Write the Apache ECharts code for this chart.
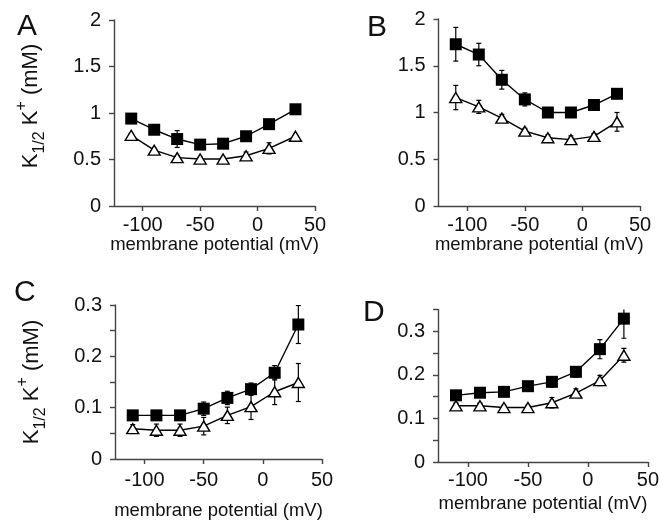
<!DOCTYPE html>
<html><head><meta charset="utf-8">
<script src="https://cdn.jsdelivr.net/npm/echarts@6/dist/echarts.min.js"></script>
<style>html,body{margin:0;padding:0;background:#fff}#c{width:662px;height:523px}</style>
</head><body><div id="c"></div>
<script>
// membrane potential (mV) of each point
const xA = [-110, -90, -70, -50, -30, -10, 10, 33];
const xB = [-110, -90, -70, -50, -30, -10, 10, 30];
const xC = [-110, -90, -70, -50, -30, -10, 10, 30];
const xD = [-110, -90, -70, -50, -30, -10, 10, 30];

// Panel A
const aSquare = [0.94, 0.82, 0.72, 0.66, 0.67, 0.75, 0.88, 1.04];
const aSquareErr = [0.02, 0.02, 0.09, 0.02, 0.02, 0.02, 0.02, 0.02];
const aTri = [0.76, 0.60, 0.52, 0.505, 0.505, 0.54, 0.62, 0.75];
const aTriErr = [0.02, 0.02, 0.02, 0.02, 0.02, 0.04, 0.06, 0.02];

// Panel B
const bSquare = [1.73, 1.62, 1.35, 1.14, 1.00, 1.00, 1.08, 1.20];
const bSquareErr = [0.18, 0.12, 0.10, 0.07, 0.03, 0.03, 0.03, 0.04];
const bTri = [1.16, 1.06, 0.94, 0.80, 0.73, 0.71, 0.745, 0.90];
const bTriErr = [0.13, 0.07, 0.04, 0.03, 0.03, 0.04, 0.03, 0.10];

// Panel C
const cSquare = [0.085, 0.085, 0.085, 0.098, 0.119, 0.136, 0.168, 0.262];
const cSquareErr = [0.005, 0.006, 0.006, 0.013, 0.013, 0.012, 0.014, 0.037];
const cTri = [0.059, 0.056, 0.056, 0.064, 0.085, 0.102, 0.131, 0.149];
const cTriErr = [0.008, 0.012, 0.012, 0.017, 0.016, 0.025, 0.025, 0.037];

// Panel D
const dSquare = [0.153, 0.159, 0.161, 0.174, 0.184, 0.207, 0.259, 0.329];
const dSquareErr = [0.008, 0.008, 0.006, 0.010, 0.012, 0.012, 0.022, 0.045];
const dTri = [0.129, 0.129, 0.125, 0.125, 0.136, 0.158, 0.187, 0.245];
const dTriErr = [0.006, 0.006, 0.005, 0.005, 0.012, 0.010, 0.012, 0.016];

const xTicks = [-100, -50, 0, 50];
const yLabelsCD = [0, 0.1, 0.2, 0.3];
const panelLetters = ['A', 'B', 'C', 'D'];
const xTitle = 'membrane potential (mV)';
const yTitle = '{k|K}{sub|1/2}{k| K}{sup|+}{k| (mM)}';

const FONT = '"Liberation Sans", Arial, Helvetica, sans-serif';
const AX = '#444';
const TXT = '#111';

const panels = [
  {x: xA, sq: aSquare, sqE: aSquareErr, tr: aTri, trE: aTriErr,
   grid: {left: 114, top: 20, width: 201, height: 186},
   y: {min: 0, max: 2, interval: 0.5}, yName: true, yPad: true, lm: 9, ng: 29},
  {x: xB, sq: bSquare, sqE: bSquareErr, tr: bTri, trE: bTriErr,
   grid: {left: 438.5, top: 19, width: 201.5, height: 187},
   y: {min: 0, max: 2, interval: 0.5}, yName: false, lm: 9, ng: 29},
  {x: xC, sq: cSquare, sqE: cSquareErr, tr: cTri, trE: cTriErr,
   grid: {left: 115, top: 305, width: 207, height: 154},
   y: {min: 0, max: 0.3, interval: 0.05, labels: yLabelsCD}, yName: true, yPad: false, lm: 11, ng: 42},
  {x: xD, sq: dSquare, sqE: dSquareErr, tr: dTri, trE: dTriErr,
   grid: {left: 438, top: 309.5, width: 210, height: 152.5},
   y: {min: 0, max: 0.35, interval: 0.05, labels: yLabelsCD}, yName: false, lm: 8, ng: 32}
];

function renderErr(params, api) {
  const x = api.value(0), lo = api.value(1), hi = api.value(2);
  const p1 = api.coord([x, hi]), p2 = api.coord([x, lo]);
  const w = 2.5;
  const style = {stroke: '#000', lineWidth: 1.2, fill: null};
  return {type: 'group', children: [
    {type: 'line', shape: {x1: p1[0], y1: p1[1], x2: p2[0], y2: p2[1]}, style: style},
    {type: 'line', shape: {x1: p1[0] - w, y1: p1[1], x2: p1[0] + w, y2: p1[1]}, style: style},
    {type: 'line', shape: {x1: p2[0] - w, y1: p2[1], x2: p2[0] + w, y2: p2[1]}, style: style}
  ]};
}

const grids = [], xAxes = [], yAxes = [], series = [];
panels.forEach((p, i) => {
  grids.push(Object.assign({containLabel: false}, p.grid));
  xAxes.push({
    type: 'value', gridIndex: i, min: -125, max: 50,
    splitLine: {show: false},
    axisLine: {onZero: false, lineStyle: {color: AX, width: 1.4}},
    axisTick: {customValues: xTicks, length: 5, lineStyle: {color: AX, width: 1.4}},
    axisLabel: {customValues: xTicks, margin: p.lm, color: TXT, fontSize: 20, fontFamily: FONT},
    name: xTitle, nameLocation: 'middle', nameGap: p.ng,
    nameTextStyle: {color: TXT, fontSize: 18.5, fontFamily: FONT}
  });
  const ya = {
    type: 'value', gridIndex: i, min: p.y.min, max: p.y.max, interval: p.y.interval,
    splitLine: {show: false},
    axisLine: {show: true, onZero: false, lineStyle: {color: AX, width: 1.4}},
    axisTick: {show: true, length: 5, lineStyle: {color: AX, width: 1.4}},
    axisLabel: {margin: 13, color: TXT, fontSize: 20, fontFamily: FONT}
  };
  if (p.y.labels) ya.axisLabel.customValues = p.y.labels;
  if (p.yName) {
    ya.name = (p.yPad ? '{pad|}' : '') + yTitle;
    ya.nameLocation = 'middle';
    ya.nameRotate = 90;
    ya.nameGap = 66;
    ya.nameTextStyle = {color: TXT, fontFamily: FONT, rich: {
      pad: {width: 14, fontSize: 22, lineHeight: 34},
      k: {fontSize: 22, fontFamily: FONT, color: TXT, lineHeight: 34, verticalAlign: 'middle'},
      sub: {fontSize: 16, fontFamily: FONT, color: TXT, lineHeight: 16, verticalAlign: 'bottom'},
      sup: {fontSize: 16, fontFamily: FONT, color: TXT, lineHeight: 16, verticalAlign: 'top'}
    }};
  }
  yAxes.push(ya);

  series.push({
    type: 'custom', xAxisIndex: i, yAxisIndex: i, z: 1, clip: true,
    renderItem: renderErr, encode: {x: 0, y: [1, 2]},
    data: p.x.map((x, j) => [x, p.tr[j] - p.trE[j], p.tr[j] + p.trE[j]])
  });
  series.push({
    type: 'custom', xAxisIndex: i, yAxisIndex: i, z: 1, clip: true,
    renderItem: renderErr, encode: {x: 0, y: [1, 2]},
    data: p.x.map((x, j) => [x, p.sq[j] - p.sqE[j], p.sq[j] + p.sqE[j]])
  });
  series.push({
    type: 'line', xAxisIndex: i, yAxisIndex: i, z: 3,
    symbol: 'triangle', symbolSize: [12, 10], showSymbol: true,
    itemStyle: {color: '#fff', borderColor: '#000', borderWidth: 1.4},
    lineStyle: {color: '#000', width: 1.4},
    data: p.x.map((x, j) => [x, p.tr[j]])
  });
  series.push({
    type: 'line', xAxisIndex: i, yAxisIndex: i, z: 4,
    symbol: 'rect', symbolSize: 12, showSymbol: true,
    itemStyle: {color: '#000', borderColor: '#000', borderWidth: 0},
    lineStyle: {color: '#000', width: 1.4},
    data: p.x.map((x, j) => [x, p.sq[j]])
  });
});

const letterPos = [[17, 27], [367, 28], [14, 293], [363, 313]];
const graphics = panelLetters.map((t, i) => ({
  type: 'text', left: letterPos[i][0], top: letterPos[i][1] - 15,
  style: {text: t, fontSize: 30, fontFamily: FONT, fill: TXT}
}));

const chart = echarts.init(document.getElementById('c'), null, {renderer: 'canvas'});
chart.setOption({
  animation: false,
  backgroundColor: '#fff',
  grid: grids, xAxis: xAxes, yAxis: yAxes, series: series,
  graphic: graphics
});
</script></body></html>
